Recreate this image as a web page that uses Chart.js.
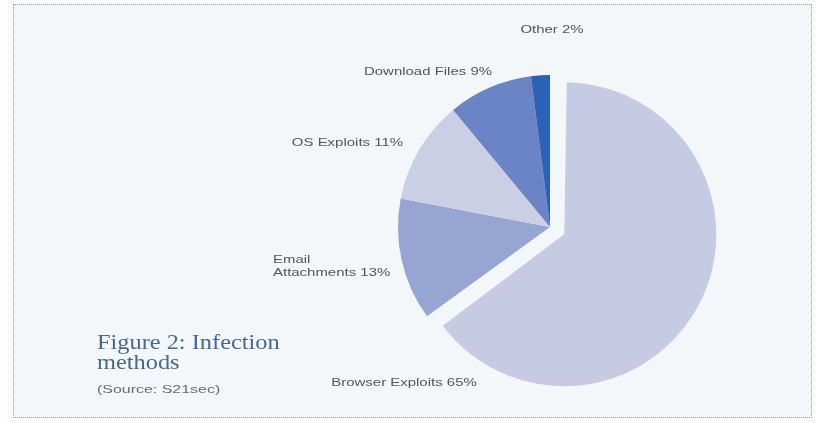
<!DOCTYPE html>
<html>
<head>
<meta charset="utf-8">
<script src="https://cdn.jsdelivr.net/npm/chart.js@4"></script>
<style>
  html, body { margin: 0; padding: 0; background: #fdfdfd; }
  #wrap { position: relative; width: 817px; height: 423px; overflow: hidden; }
  #frame {
    position: absolute; left: 13px; top: 4px; width: 797px; height: 412px;
    border: 1px dotted #9a9a9a; background: #f4f7fa;
  }
  #pie { position: absolute; left: 0; top: 0; }
  #caption {
    position: absolute; left: 97px; top: 332px;
    font-family: 'Liberation Serif', 'DejaVu Serif', serif;
    font-size: 21px; line-height: 20px; color: #4a6690;
    transform: scaleX(1.16); transform-origin: left top;
  }
  #source {
    position: absolute; left: 97px; top: 382px;
    font-family: 'Liberation Sans', Arial, sans-serif;
    font-size: 11px; line-height: 14px; color: #6a6a6a;
    transform: scaleX(1.45); transform-origin: left top;
  }
</style>
</head>
<body>
<div id="wrap">
  <div id="frame"></div>
  <canvas id="pie" width="817" height="423"></canvas>
  <div id="caption">Figure 2: Infection<br>methods</div>
  <div id="source">(Source: S21sec)</div>
</div>
<script>
'use strict';

var CATEGORIES = ['Browser Exploits', 'Email Attachments', 'OS Exploits', 'Download Files', 'Other'];
var SHARES     = [65, 13, 11, 9, 2];
var LABELS     = [['Browser Exploits 65%'], ['Email', 'Attachments 13%'], ['OS Exploits 11%'],
                  ['Download Files 9%'], ['Other 2%']];

var SLICE_COLORS = ['#c6cbe3', '#97a5d3', '#cbcfe6', '#6a84c5', '#2b62b6'];
var SLICE_OFFSET = [64, 0, 0, 0, 0];

// label placement relative to the pie centre: dx, dy, alignment
var LABEL_POS = [
  { dx: -146, dy: 156,  align: 'center' },
  { dx: -277, dy: 39,   align: 'left' },
  { dx: -147, dy: -84,  align: 'right' },
  { dx: -58,  dy: -155, align: 'right' },
  { dx: 2,    dy: -197, align: 'center' },
];
var LABEL_STRETCH = 1.36;

// chart.js grows an exploded arc by offset/4; keep it the same size as the rest
var evenRadius = {
  id: 'evenRadius',
  beforeDatasetsDraw: function(chart) {
    var arcs = chart.getDatasetMeta(0).data;
    arcs.forEach(function(a, i) {
      a.outerRadius = arcs[arcs.length - 1].outerRadius - SLICE_OFFSET[i] / 4;
    });
  },
};

var sliceLabels = {
  id: 'sliceLabels',
  afterDatasetsDraw: function(chart) {
    var ctx = chart.ctx;
    var arc = chart.getDatasetMeta(0).data[0];
    if (!arc) return;
    ctx.save();
    ctx.font = '11px "Liberation Sans", Arial, sans-serif';
    ctx.fillStyle = '#555';
    ctx.textBaseline = 'middle';
    LABELS.forEach(function(lines, i) {
      var p = LABEL_POS[i];
      var y0 = arc.y + p.dy - (lines.length - 1) * 6.5;
      lines.forEach(function(line, j) {
        ctx.save();
        ctx.translate(arc.x + p.dx, y0 + j * 13);
        ctx.scale(LABEL_STRETCH, 1);
        ctx.textAlign = p.align;
        ctx.fillText(line, 0, 0);
        ctx.restore();
      });
    });
    ctx.restore();
  },
};

var ctx = document.getElementById('pie').getContext('2d');

new Chart(ctx, {
  type: 'pie',
  data: {
    labels: CATEGORIES,
    datasets: [{
      data:            SHARES,
      backgroundColor: SLICE_COLORS,
      borderWidth:     0,
      offset:          SLICE_OFFSET,
      radius:          152,
    }],
  },
  options: {
    responsive: false,
    animation:  false,
    layout: { padding: { left: 400, right: 117, top: 70, bottom: 39 } },
    plugins: {
      legend:  { display: false },
      tooltip: { enabled: false },
    },
  },
  plugins: [evenRadius, sliceLabels],
});
</script>
</body>
</html>
